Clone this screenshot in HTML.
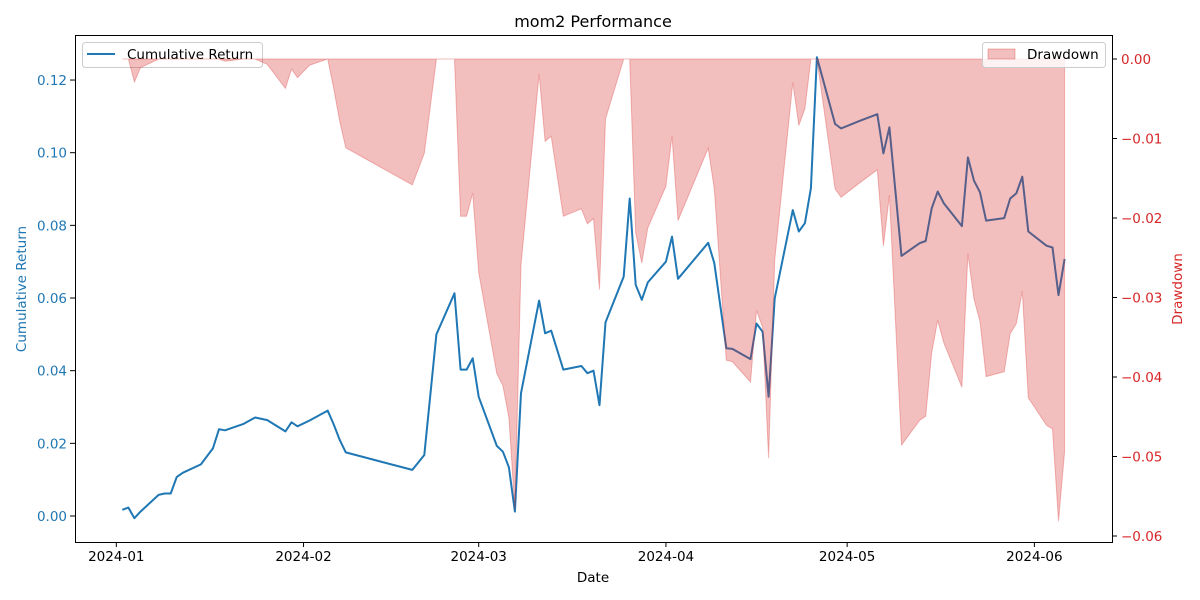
<!DOCTYPE html>
<html><head><meta charset="utf-8"><style>
body{margin:0;background:#fff;}
svg{display:block;font-family:"DejaVu Sans","Liberation Sans",sans-serif;}
</style></head><body>
<svg id="chart" width="1200" height="600" viewBox="0 0 1200 600">
<rect width="1200" height="600" fill="#fff"/>
<text x="593" y="27" font-size="16" text-anchor="middle" fill="#000">mom2 Performance</text>
<g id="line-layer"></g>
<g id="legend1">
<rect x="82.5" y="42.5" width="180" height="25" rx="3" fill="#fff" fill-opacity="0.8" stroke="#ccc"/>
<line x1="87" y1="54" x2="115" y2="54" stroke="#1f77b4" stroke-width="2"/>
<text x="127" y="59" font-size="13.5">Cumulative Return</text>
</g>
<g id="fill-layer"></g>
<g id="legend2">
<rect x="982.5" y="42.5" width="123" height="25" rx="3" fill="#fff" fill-opacity="0.8" stroke="#ccc"/>
<rect x="988" y="49" width="27" height="10" fill="#d62728" fill-opacity="0.3" stroke="#d62728" stroke-opacity="0.3"/>
<text x="1027" y="59" font-size="13.5">Drawdown</text>
</g>
<g id="axes-layer"></g>
<rect x="75.5" y="35.5" width="1037" height="507" fill="none" stroke="#000" stroke-width="1"/>
<text x="593" y="582" font-size="13.5" text-anchor="middle">Date</text>
<text transform="translate(26,289) rotate(-90)" font-size="13.5" text-anchor="middle" fill="#1f77b4">Cumulative Return</text>
<text transform="translate(1182,289) rotate(-90)" font-size="13.5" text-anchor="middle" fill="#d62728">Drawdown</text>
</svg>
<script>
const days = [1,2,3,4,7,8,9,10,11,14,16,17,18,21,22,23,25,28,29,30,32,35,36,37,38,49,51,53,56,57,58,59,60,63,64,65,66,67,70,71,72,74,77,78,79,80,81,84,85,86,87,88,91,92,93,98,99,101,102,105,106,107,108,109,112,113,114,115,116,119,120,123,126,127,128,130,133,134,135,136,137,140,141,142,143,144,147,148,149,150,151,154,155,156,157];
const cumReturn = [0.0017,0.0023,-0.0006,0.0012,0.0058,0.0062,0.0062,0.0107,0.0119,0.0142,0.0186,0.0239,0.0236,0.0253,0.0262,0.0271,0.0264,0.0233,0.0258,0.0247,0.0263,0.0290,0.0252,0.0209,0.0175,0.0127,0.0168,0.0500,0.0613,0.0403,0.0403,0.0434,0.0328,0.0193,0.0177,0.0134,0.0012,0.0338,0.0593,0.0503,0.0510,0.0403,0.0413,0.0393,0.0400,0.0305,0.0533,0.0659,0.0874,0.0636,0.0595,0.0643,0.0700,0.0769,0.0653,0.0752,0.0696,0.0462,0.0460,0.0432,0.0530,0.0507,0.0328,0.0599,0.0842,0.0783,0.0806,0.0902,0.1263,0.1079,0.1067,0.1087,0.1106,0.0998,0.1070,0.0716,0.0751,0.0757,0.0847,0.0893,0.0861,0.0798,0.0987,0.0923,0.0891,0.0813,0.0820,0.0874,0.0888,0.0934,0.0783,0.0744,0.0739,0.0608,0.0707];
const xTickDays = [0,31,60,91,121,152];
const xTickLabels = ["2024-01","2024-02","2024-03","2024-04","2024-05","2024-06"];
const leftTicks = [0,0.02,0.04,0.06,0.08,0.10,0.12];
const leftTickLabels = ["0.00","0.02","0.04","0.06","0.08","0.10","0.12"];
const rightTicks = [0,-0.01,-0.02,-0.03,-0.04,-0.05,-0.06];
const rightTickLabels = ["0.00","−0.01","−0.02","−0.03","−0.04","−0.05","−0.06"];

const NS="http://www.w3.org/2000/svg";
const xS = d => 116.3 + d*6.04;
const yL = v => 516 - v*3633;
const yR = v => 59 - v*7950;
function mk(tag, attrs, parent){const e=document.createElementNS(NS,tag);for(const k in attrs)e.setAttribute(k,attrs[k]);parent.appendChild(e);return e;}

// drawdown derived from cumulative return
const drawdown=[];let peak=-Infinity;
cumReturn.forEach(c=>{const w=1+c;peak=Math.max(peak,w);drawdown.push(w/peak-1);});

const lineLayer=document.getElementById('line-layer');
const lp=mk('path',{d:days.map((d,i)=>(i?'L':'M')+xS(d).toFixed(1)+','+yL(cumReturn[i]).toFixed(1)).join(''),fill:'none',stroke:'#1f77b4','stroke-width':2,'stroke-linejoin':'round'},lineLayer);



const fillLayer=document.getElementById('fill-layer');
let fd='M'+xS(days[0]).toFixed(1)+','+yR(0);
days.forEach((d,i)=>{fd+='L'+xS(d).toFixed(1)+','+yR(drawdown[i]).toFixed(1);});
fd+='L'+xS(days[days.length-1]).toFixed(1)+','+yR(0)+'Z';
const fp=mk('path',{d:fd,fill:'#d62728','fill-opacity':0.3,stroke:'#d62728','stroke-opacity':0.3,'stroke-width':1},fillLayer);



const ax=document.getElementById('axes-layer');
xTickDays.forEach((d,i)=>{
  const x=xS(d);
  mk('line',{x1:x,y1:542,x2:x,y2:547,stroke:'#000'},ax);
  const t=mk('text',{x:x,y:561,'font-size':13.5,'text-anchor':'middle'},ax);
  t.textContent=xTickLabels[i];
  
  
});
leftTicks.forEach((v,i)=>{
  const y=yL(v);
  mk('line',{x1:70,y1:y,x2:75,y2:y,stroke:'#000'},ax);
  const t=mk('text',{x:67,y:y+5,'font-size':13.5,'text-anchor':'end',fill:'#1f77b4'},ax);
  t.textContent=leftTickLabels[i];
  
  
});
rightTicks.forEach((v,i)=>{
  const y=yR(v);
  mk('line',{x1:1112,y1:y,x2:1117,y2:y,stroke:'#000'},ax);
  const t=mk('text',{x:1121,y:y+5,'font-size':13.5,'text-anchor':'start',fill:'#d62728'},ax);
  t.textContent=rightTickLabels[i];
  
  
});
</script>
</body></html>
